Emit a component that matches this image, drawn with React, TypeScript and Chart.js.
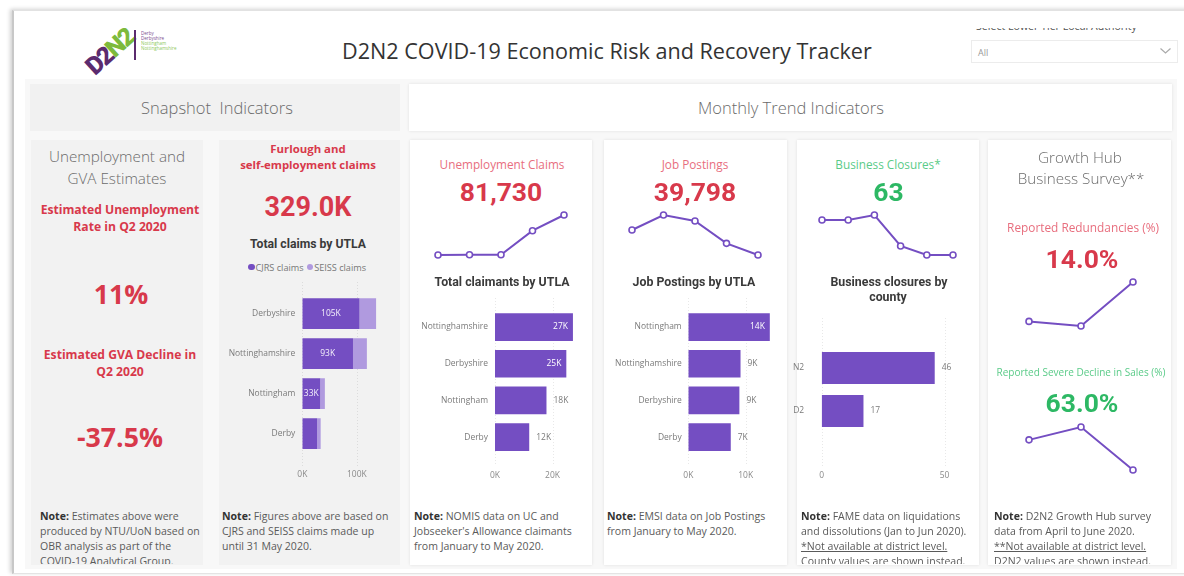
import React, { useEffect, useRef } from "react";
import { Chart, registerables } from "chart.js";
Chart.register(...registerables);

const SEGOE = '"Open Sans", "Noto Sans", sans-serif';
const DIN = 'Roboto, "Noto Sans", sans-serif';

const PURPLE = "#744EC2";
const LAVENDER = "#B09ADF";
const RED = "#D8394B";
const PINK = "#E86E7E";
const GREEN = "#2DB864";
const LIGHT_GREEN = "#5ACB88";
const GRAY = "#6b6b6b";
const DARK = "#3a3a3a";

// ---------- data ----------
const TITLE = "D2N2 COVID-19 Economic Risk and Recovery Tracker";
const months5 = ["Jan", "Feb", "Mar", "Apr", "May"];
const months6 = ["Jan", "Feb", "Mar", "Apr", "May", "Jun"];
const surveyMonths = ["Apr", "May", "Jun"];

const unemploymentClaimsTrend = [38050, 38300, 38400, 64600, 81730];
const jobPostingsTrend = [54800, 63800, 60200, 46800, 39798];
const businessClosuresTrend = [133, 133, 143, 81, 63, 63];
const redundanciesTrend = [8.0, 7.3, 14.0];
const salesDeclineTrend = [70.5, 73.7, 63.0];

const claimsUtla = ["Derbyshire", "Nottinghamshire", "Nottingham", "Derby"];
const cjrsClaims = [105000, 93000, 33000, 27200];
const seissClaims = [30400, 25500, 8400, 6500];
const claimsTicks = [0, 100000];

const claimantUtla = ["Nottinghamshire", "Derbyshire", "Nottingham", "Derby"];
const claimants = [27100, 24800, 17900, 11900];
const claimantTicks = [0, 20000];

const postingUtla = ["Nottingham", "Nottinghamshire", "Derbyshire", "Derby"];
const postings = [14200, 9100, 8900, 7400];
const postingTicks = [0, 10000];

const closureCounty = ["N2", "D2"];
const closures = [46, 17];
const closureTicks = [0, 50];

// ---------- helpers ----------
let mctx: CanvasRenderingContext2D | null = null;
function fs(text: string, weight: number, family: string, target: number, base = 20) {
  if (!mctx) mctx = document.createElement("canvas").getContext("2d");
  if (!mctx) return base;
  mctx.font = `${weight} ${base}px ${family}`;
  const w = mctx.measureText(text).width;
  return w > 0 ? (base * target) / w : base;
}

function Txt(props: {
  x: number; y: number; size: number; color: string; weight?: number; family?: string;
  align?: "center" | "left"; children: React.ReactNode; underline?: boolean;
}) {
  const { x, y, size, color, weight = 400, family = SEGOE, align = "center", children, underline } = props;
  const lh = Math.ceil(size * 1.4);
  const base: React.CSSProperties = {
    position: "absolute", top: y - lh / 2, height: lh, lineHeight: lh + "px", fontSize: size,
    color, fontWeight: weight, fontFamily: family, whiteSpace: "pre",
    textDecoration: underline ? "underline" : "none",
  };
  const pos: React.CSSProperties = align === "center" ? { left: x - 250, width: 500, textAlign: "center" } : { left: x };
  return <div style={{ ...base, ...pos }}>{children}</div>;
}

function Spark(props: { x0: number; x1: number; y0: number; y1: number; labels: string[]; data: number[] }) {
  const { x0, x1, y0, y1, labels, data } = props;
  const ref = useRef<HTMLCanvasElement>(null);
  const pad = 6;
  const w = Math.round(x1 - x0 + 2 * pad);
  const h = Math.round(y1 - y0 + 2 * pad);
  useEffect(() => {
    const chart = new Chart(ref.current as HTMLCanvasElement, {
      type: "line",
      data: {
        labels,
        datasets: [{
          data, borderColor: PURPLE, borderWidth: 2, pointRadius: 3, pointBorderWidth: 1.6,
          pointBackgroundColor: "#fff", pointBorderColor: PURPLE, tension: 0, fill: false, clip: false,
        } as any],
      },
      options: {
        responsive: false, animation: false, devicePixelRatio: 1, events: [],
        layout: { padding: pad },
        plugins: { legend: { display: false }, tooltip: { enabled: false } },
        scales: {
          x: { display: false, offset: false },
          y: { display: false, bounds: "data", grace: 0 } as any,
        },
      },
    });
    return () => chart.destroy();
  }, []);
  return (
    <canvas ref={ref} width={w} height={h}
      style={{ position: "absolute", left: Math.round(x0 - pad), top: Math.round(y0 - pad), width: w, height: h }} />
  );
}

type HBarCfg = {
  canvasL: number; areaL: number; areaT: number; catH: number; pxPerUnit: number; max: number; ticks: number[];
  tickY: number; gridT: number; gridB: number; labels: string[]; series: { data: number[]; color: string }[];
  barPct: number; yPad: number; fmtTick: (v: number) => string; fmtLabel: (v: number) => string;
  mode: "center" | "auto"; stacked: boolean; fontSize: number;
};

function HBar(p: HBarCfg) {
  const ref = useRef<HTMLCanvasElement>(null);
  const n = p.labels.length;
  const canvasL = Math.round(p.canvasL);
  const canvasT = Math.round(Math.min(p.areaT, p.gridT) - 2);
  const areaR = p.areaL + p.max * p.pxPerUnit;
  const areaB = p.areaT + n * p.catH;
  const lh = p.fontSize * 1.2;
  const W = Math.ceil(areaR + 20 - canvasL);
  const H = Math.ceil(p.tickY + lh / 2 + 3 - canvasT);
  const padT = p.areaT - canvasT;
  const padR = W - (areaR - canvasL);
  const xH = H - (areaB - canvasT);
  const yW = p.areaL - canvasL;
  const tickPad = p.tickY - areaB - lh / 2;

  useEffect(() => {
    const gridPlugin = {
      id: "vgrid",
      beforeDatasetsDraw(chart: any) {
        const ctx = chart.ctx;
        const xs = chart.scales.x;
        ctx.save();
        ctx.strokeStyle = "rgba(0,0,0,0.09)";
        ctx.setLineDash([1, 2]);
        ctx.lineWidth = 1;
        xs.ticks.forEach((t: any) => {
          const px = Math.round(xs.getPixelForValue(t.value)) + 0.5;
          ctx.beginPath();
          ctx.moveTo(px, p.gridT - canvasT);
          ctx.lineTo(px, p.gridB - canvasT);
          ctx.stroke();
        });
        ctx.restore();
      },
    };
    const labelPlugin = {
      id: "barLabels",
      afterDatasetsDraw(chart: any) {
        const ctx = chart.ctx;
        ctx.save();
        ctx.font = `400 ${p.fontSize}px ${SEGOE}`;
        ctx.textBaseline = "middle";
        const right = chart.chartArea.right;
        const idxs = p.mode === "center" ? [0] : chart.data.datasets.map((_: any, i: number) => i);
        idxs.forEach((di: number) => {
          const meta = chart.getDatasetMeta(di);
          meta.data.forEach((el: any, i: number) => {
            const v = chart.data.datasets[di].data[i] as number;
            const { x, y, base } = el.getProps(["x", "y", "base"], true);
            const w = Math.abs(x - base);
            const t = p.fmtLabel(v);
            const tw = ctx.measureText(t).width;
            if (p.mode === "center") {
              if (w < 17) return;
              ctx.fillStyle = "#f4f0fb";
              ctx.textAlign = "center";
              ctx.fillText(t, (x + base) / 2, y);
            } else if (x + 7 + tw > right) {
              ctx.fillStyle = "#ffffff";
              ctx.textAlign = "right";
              ctx.fillText(t, x - 5, y);
            } else {
              ctx.fillStyle = "#7a7a7a";
              ctx.textAlign = "left";
              ctx.fillText(t, x + 7, y);
            }
          });
        });
        ctx.restore();
      },
    };
    const chart = new Chart(ref.current as HTMLCanvasElement, {
      type: "bar",
      data: {
        labels: p.labels,
        datasets: p.series.map((s) => ({
          data: s.data, backgroundColor: s.color, barPercentage: p.barPct, categoryPercentage: 1, borderWidth: 0,
        })),
      },
      options: {
        indexAxis: "y", responsive: false, animation: false, devicePixelRatio: 1, events: [],
        layout: { padding: { top: padT, right: padR, bottom: 0, left: 0 } },
        plugins: { legend: { display: false }, tooltip: { enabled: false } },
        scales: {
          x: {
            type: "linear", min: 0, max: p.max, stacked: p.stacked,
            grid: { display: false, drawTicks: false }, border: { display: false },
            ticks: {
              padding: tickPad, color: "#8a8a8a",
              font: { family: SEGOE, size: p.fontSize }, maxRotation: 0, autoSkip: false,
              callback: (v: any) => p.fmtTick(Number(v)),
            },
            afterBuildTicks: (s: any) => { s.ticks = p.ticks.map((v) => ({ value: v })); },
            afterFit: (s: any) => { s.height = xH; s.paddingLeft = 0; s.paddingRight = 0; },
          } as any,
          y: {
            type: "category", stacked: p.stacked,
            grid: { display: false, drawTicks: false }, border: { display: false },
            ticks: { padding: p.yPad, color: "#7a7a7a", font: { family: SEGOE, size: p.fontSize }, autoSkip: false },
            afterFit: (s: any) => { s.width = yW; s.paddingTop = 0; s.paddingBottom = 0; },
          } as any,
        },
      },
      plugins: [gridPlugin, labelPlugin],
    });
    return () => chart.destroy();
  }, []);
  return (
    <canvas ref={ref} width={W} height={H}
      style={{ position: "absolute", left: canvasL, top: canvasT, width: W, height: H }} />
  );
}

function Box(props: { l: number; t: number; w: number; h: number; bg: string; shadow?: string; children?: React.ReactNode }) {
  return (
    <div style={{
      position: "absolute", left: props.l, top: props.t, width: props.w, height: props.h,
      background: props.bg, boxShadow: props.shadow,
    }}>{props.children}</div>
  );
}

function NoteLines(props: { x: number; lines: { text: string; bold?: string; underline?: boolean }[]; size: number }) {
  const ys = [516, 531, 546, 561];
  return (
    <>
      {props.lines.map((ln, i) => (
        <Txt key={i} x={props.x} y={ys[i]} size={props.size} color="#5a5a5a" align="left" underline={ln.underline}>
          {ln.bold ? <span style={{ fontWeight: 700, color: "#333" }}>{ln.bold}</span> : null}
          {ln.text}
        </Txt>
      ))}
    </>
  );
}

export default function App() {
  const tSize = fs(TITLE, 400, SEGOE, 530);
  const hSize = fs("Monthly Trend Indicators", 300, SEGOE, 186);
  const subSize = fs("Unemployment and", 300, SEGOE, 136);
  const redBold = fs("Estimated Unemployment", 700, SEGOE, 159);
  const bigP1 = fs("-37.5%", 700, SEGOE, 86);
  const furSize = fs("self-employment claims", 700, SEGOE, 136);
  const bigDin = fs("329.0K", 700, DIN, 87);
  const chartTitle = fs("Total claimants by UTLA", 700, DIN, 135);
  const kpiTitle = fs("Unemployment Claims", 400, SEGOE, 125);
  const noteSize = fs("produced by NTU/UoN based on", 400, SEGOE, 160);
  const axisSize = fs("Nottinghamshire", 400, SEGOE, 66.7);
  const redunSize = fs("Reported Redundancies (%)", 400, SEGOE, 152);
  const salesSize = fs("Reported Severe Decline in Sales (%)", 400, SEGOE, 169);
  const legendSize = fs("SEISS claims", 400, SEGOE, 52);
  const ddSize = fs("Select Lower Tier Local Authority", 400, SEGOE, 161);

  const kFmt = (v: number) => Math.round(v / 1000) + "K";
  const tickK = (v: number) => v / 1000 + "K";
  const panelShadow = "0 0 3px rgba(0,0,0,0.10)";

  return (
    <div style={{ position: "fixed", left: 0, top: 0, width: 1184, height: 576, background: "#fff", overflow: "hidden", fontFamily: SEGOE }}>
      {/* card */}
      <div style={{
        position: "absolute", left: 12, top: 10, width: 1180, height: 562, background: "#fff",
        borderLeft: "2px solid #c8c8c8", borderTop: "1px solid #e2e2e2", borderBottom: "1px solid #e4e4e4",
        boxShadow: "-2px -1px 4px rgba(0,0,0,0.18)",
      }} />

      {/* logo */}
      <div style={{
        position: "absolute", left: 110 - 40, top: 52 - 15, width: 80, height: 30, textAlign: "center",
        lineHeight: "30px", fontFamily: DIN, fontWeight: 900, fontSize: 25, letterSpacing: -2,
        transform: "rotate(-42deg)",
      }}>
        <span style={{ color: "#5B2B6E" }}>D2</span><span style={{ color: "#7DBA3C" }}>N2</span>
      </div>
      <div style={{ position: "absolute", left: 134, top: 30, width: 2, height: 30, background: "#5B2B6E" }} />
      <div style={{ position: "absolute", left: 141, top: 31, transform: "scale(0.5)", transformOrigin: "0 0", fontSize: 9, lineHeight: "10px", fontFamily: SEGOE }}>
        <div style={{ color: "#7a4a8e" }}>Derby</div>
        <div style={{ color: "#7a4a8e" }}>Derbyshire</div>
        <div style={{ color: "#8DC85C" }}>Nottingham</div>
        <div style={{ color: "#8DC85C" }}>Nottinghamshire</div>
      </div>

      {/* title */}
      <Txt x={592} y={50} size={tSize} color="#333">{TITLE}</Txt>

      {/* dropdown */}
      <div style={{ position: "absolute", left: 960, top: 28, width: 220, height: 8, overflow: "hidden" }}>
        <div style={{ position: "absolute", left: 16, top: -9, fontSize: ddSize, lineHeight: "14px", color: "#555", whiteSpace: "pre" }}>
          Select Lower Tier Local Authority
        </div>
      </div>
      <div style={{ position: "absolute", left: 971, top: 40, width: 205, height: 21, border: "1px solid #ececec", background: "#fff" }} />
      <Txt x={978} y={52} size={9} color="#999" align="left">All</Txt>
      <svg style={{ position: "absolute", left: 1159, top: 46 }} width={14} height={10}>
        <polyline points="1.5,2.5 6.5,7 11.5,2.5" fill="none" stroke="#aaa" strokeWidth={1.2} />
      </svg>

      {/* content background */}
      <Box l={25} t={79} w={1152} h={490} bg="#f8f8f8" />
      <Box l={30} t={84} w={370} h={47} bg="#f1f1f1" />
      <Box l={409} t={84} w={763} h={47} bg="#fff" shadow={panelShadow} />
      <Txt x={217} y={108} size={hSize} color={GRAY} weight={300}>Snapshot  Indicators</Txt>
      <Txt x={791} y={108} size={hSize} color={GRAY} weight={300}>Monthly Trend Indicators</Txt>

      {/* panels */}
      <Box l={31} t={140} w={172} h={425} bg="#f2f2f2" />
      <Box l={219} t={140} w={181} h={425} bg="#f2f2f2" />
      <Box l={410} t={140} w={182} h={425} bg="#fff" shadow={panelShadow} />
      <Box l={604} t={140} w={183} h={425} bg="#fff" shadow={panelShadow} />
      <Box l={797} t={140} w={182} h={425} bg="#fff" shadow={panelShadow} />
      <Box l={988} t={140} w={183} h={425} bg="#fff" shadow={panelShadow} />

      {/* panel 1 */}
      <Txt x={117} y={156} size={subSize} color={GRAY} weight={300}>Unemployment and</Txt>
      <Txt x={117} y={178} size={subSize} color={GRAY} weight={300}>GVA Estimates</Txt>
      <Txt x={120} y={210} size={redBold} color={RED} weight={700}>Estimated Unemployment</Txt>
      <Txt x={120} y={227} size={redBold} color={RED} weight={700}>Rate in Q2 2020</Txt>
      <Txt x={121} y={294} size={bigP1} color={RED} weight={700}>11%</Txt>
      <Txt x={120} y={355} size={redBold} color={RED} weight={700}>Estimated GVA Decline in</Txt>
      <Txt x={120} y={372} size={redBold} color={RED} weight={700}>Q2 2020</Txt>
      <Txt x={120} y={437} size={bigP1} color={RED} weight={700}>-37.5%</Txt>

      {/* panel 2 */}
      <Txt x={308} y={149} size={furSize} color={RED} weight={700}>Furlough and</Txt>
      <Txt x={308} y={165} size={furSize} color={RED} weight={700}>self-employment claims</Txt>
      <Txt x={308} y={207} size={bigDin} color={RED} weight={700} family={DIN}>329.0K</Txt>
      <Txt x={308} y={244} size={chartTitle * 0.99} color={DARK} weight={700} family={DIN}>Total claims by UTLA</Txt>
      <div style={{ position: "absolute", left: 248, top: 267 - 7, height: 14, display: "flex", alignItems: "center", fontSize: legendSize, color: "#777", whiteSpace: "pre" }}>
        <span style={{ display: "inline-block", width: 6.5, height: 6.5, borderRadius: "50%", background: PURPLE, marginRight: 1 }} />
        <span>CJRS claims</span>
        <span style={{ display: "inline-block", width: 6.5, height: 6.5, borderRadius: "50%", background: LAVENDER, marginLeft: 3, marginRight: 1 }} />
        <span>SEISS claims</span>
      </div>
      <HBar canvasL={221} areaL={302.3} areaT={293.7} catH={40} pxPerUnit={0.000545} max={140000} ticks={claimsTicks}
        tickY={475} gridT={282} gridB={466} labels={claimsUtla}
        series={[{ data: cjrsClaims, color: PURPLE }, { data: seissClaims, color: LAVENDER }]}
        barPct={0.77} yPad={7} fmtTick={tickK} fmtLabel={kFmt} mode="center" stacked={true} fontSize={axisSize} />

      {/* panel 3 */}
      <Txt x={502} y={164} size={kpiTitle} color={PINK}>Unemployment Claims</Txt>
      <Txt x={501} y={192} size={bigDin * 0.98} color={RED} weight={700} family={DIN}>81,730</Txt>
      <Spark x0={438.3} x1={564.3} y0={215} y1={255} labels={months5} data={unemploymentClaimsTrend} />
      <Txt x={502} y={281.7} size={chartTitle} color={DARK} weight={700} family={DIN}>Total claimants by UTLA</Txt>
      <HBar canvasL={412} areaL={495} areaT={308.7} catH={36.7} pxPerUnit={0.002876} max={30000} ticks={claimantTicks}
        tickY={475.7} gridT={298} gridB={466} labels={claimantUtla}
        series={[{ data: claimants, color: PURPLE }]}
        barPct={0.755} yPad={7} fmtTick={tickK} fmtLabel={kFmt} mode="auto" stacked={false} fontSize={axisSize} />

      {/* panel 4 */}
      <Txt x={695} y={164} size={kpiTitle} color={PINK}>Job Postings</Txt>
      <Txt x={695} y={192} size={bigDin * 0.98} color={RED} weight={700} family={DIN}>39,798</Txt>
      <Spark x0={631.7} x1={757.3} y0={215} y1={255} labels={months5} data={jobPostingsTrend} />
      <Txt x={694} y={281.7} size={chartTitle} color={DARK} weight={700} family={DIN}>Job Postings by UTLA</Txt>
      <HBar canvasL={606} areaL={688.3} areaT={308.7} catH={36.7} pxPerUnit={0.00574} max={15000} ticks={postingTicks}
        tickY={475.7} gridT={298} gridB={466} labels={postingUtla}
        series={[{ data: postings, color: PURPLE }]}
        barPct={0.755} yPad={6.6} fmtTick={tickK} fmtLabel={kFmt} mode="auto" stacked={false} fontSize={axisSize} />

      {/* panel 5 */}
      <Txt x={888} y={164} size={kpiTitle} color={LIGHT_GREEN}>Business Closures*</Txt>
      <Txt x={888.5} y={192} size={bigDin * 0.98} color={GREEN} weight={700} family={DIN}>63</Txt>
      <Spark x0={822.3} x1={953.3} y0={215} y1={255} labels={months6} data={businessClosuresTrend} />
      <Txt x={889} y={281.7} size={chartTitle} color={DARK} weight={700} family={DIN}>Business closures by</Txt>
      <Txt x={888} y={297} size={chartTitle} color={DARK} weight={700} family={DIN}>county</Txt>
      <HBar canvasL={784} areaL={821.7} areaT={346.5} catH={43} pxPerUnit={2.457} max={55} ticks={closureTicks}
        tickY={475.7} gridT={318} gridB={468} labels={closureCounty}
        series={[{ data: closures, color: PURPLE }]}
        barPct={0.745} yPad={17.5} fmtTick={(v) => String(v)} fmtLabel={(v) => String(v)} mode="auto" stacked={false} fontSize={axisSize} />

      {/* panel 6 */}
      <Txt x={1080} y={156.7} size={subSize} color={GRAY} weight={300}>Growth Hub</Txt>
      <Txt x={1081} y={178.3} size={subSize} color={GRAY} weight={300}>Business Survey**</Txt>
      <Txt x={1083} y={227.3} size={redunSize} color={PINK}>Reported Redundancies (%)</Txt>
      <Txt x={1082} y={259} size={bigDin * 0.98} color={RED} weight={700} family={DIN}>14.0%</Txt>
      <Spark x0={1029} x1={1133.3} y0={282.3} y1={326.7} labels={surveyMonths} data={redundanciesTrend} />
      <Txt x={1081} y={372.3} size={salesSize} color={LIGHT_GREEN}>Reported Severe Decline in Sales (%)</Txt>
      <Txt x={1082} y={403.3} size={bigDin * 0.98} color={GREEN} weight={700} family={DIN}>63.0%</Txt>
      <Spark x0={1029} x1={1133.3} y0={427.3} y1={470} labels={surveyMonths} data={salesDeclineTrend} />

      {/* notes (clipped at panel bottom) */}
      <div style={{ position: "absolute", left: 0, top: 500, width: 1184, height: 64, overflow: "hidden" }}>
        <div style={{ position: "absolute", left: 0, top: -500, width: 1184, height: 576 }}>
          <NoteLines x={40} size={noteSize} lines={[
            { bold: "Note:", text: " Estimates above were" },
            { text: "produced by NTU/UoN based on" },
            { text: "OBR analysis as part of the" },
            { text: "COVID-19 Analytical Group." },
          ]} />
          <NoteLines x={222} size={noteSize} lines={[
            { bold: "Note:", text: " Figures above are based on" },
            { text: "CJRS and SEISS claims made up" },
            { text: "until 31 May 2020." },
          ]} />
          <NoteLines x={414} size={noteSize} lines={[
            { bold: "Note:", text: " NOMIS data on UC and" },
            { text: "Jobseeker's Allowance claimants" },
            { text: "from January to May 2020." },
          ]} />
          <NoteLines x={607} size={noteSize} lines={[
            { bold: "Note:", text: " EMSI data on Job Postings" },
            { text: "from January to May 2020." },
          ]} />
          <NoteLines x={801} size={noteSize} lines={[
            { bold: "Note:", text: " FAME data on liquidations" },
            { text: "and dissolutions (Jan to Jun 2020)." },
            { text: "*Not available at district level.", underline: true },
            { text: "County values are shown instead." },
          ]} />
          <NoteLines x={994} size={noteSize} lines={[
            { bold: "Note:", text: " D2N2 Growth Hub survey" },
            { text: "data from April to June 2020." },
            { text: "**Not available at district level.", underline: true },
            { text: "D2N2 values are shown instead." },
          ]} />
        </div>
      </div>
    </div>
  );
}
